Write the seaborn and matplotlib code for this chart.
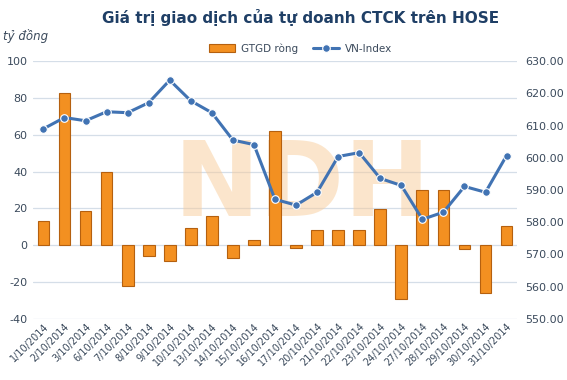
import numpy as np
import pandas as pd
import matplotlib
matplotlib.use("Agg")
import matplotlib.pyplot as plt
import seaborn as sns

# --- data --- #
dates = ["1/10/2014", "2/10/2014", "3/10/2014", "6/10/2014", "7/10/2014", "8/10/2014",
         "9/10/2014", "10/10/2014", "13/10/2014", "14/10/2014", "15/10/2014", "16/10/2014",
         "17/10/2014", "20/10/2014", "21/10/2014", "22/10/2014", "23/10/2014", "24/10/2014",
         "27/10/2014", "28/10/2014", "29/10/2014", "30/10/2014", "31/10/2014"]
gtgd_rong = [13.4, 82.9, 18.8, 39.6, -21.9, -6.1, -8.7, 9.6, 15.7, -7.2, 3.0, 62.3,
             -1.7, 8.5, 8.5, 8.5, 19.5, -29.4, 30.2, 29.8, -2.3, -25.7, 10.3]
vn_index = [609.0, 612.5, 611.5, 614.3, 614.0, 617.1, 624.1, 617.7, 614.0, 605.5, 604.1, 587.1,
            585.3, 589.3, 600.4, 601.6, 593.6, 591.4, 580.9, 583.1, 591.1, 589.3, 600.7]

df = pd.DataFrame({"date": dates, "gtgd": gtgd_rong, "vni": vn_index})
df["pos"] = np.arange(len(df))

# --- style --- #
sns.set_style("white")
plt.rcParams["font.family"] = ["DejaVu Sans"]
plt.rcParams["axes.unicode_minus"] = False
text_col = "#3b4a5c"
grid_col = "#d5dee8"
bar_col = "#f39021"
bar_edge = "#b5600f"
line_col = "#4173b3"

fig = plt.figure(figsize=(5.67, 3.80), dpi=100)
ax = fig.add_axes([0.058, 0.161, 0.854, 0.678])

# watermark (behind everything in the plot area) #
ax.text(0.555, 0.51, "NDH", transform=ax.transAxes, fontsize=74, fontweight="bold",
        color="#f8cc9a", alpha=0.5, ha="center", va="center", zorder=1)

# bars #
sns.barplot(data=df, x="date", y="gtgd", ax=ax, color=bar_col, width=0.56,
            edgecolor=bar_edge, linewidth=0.8, saturation=1, zorder=3)
ax.set_ylim(-40, 100)
ax.set_yticks(np.arange(-40, 101, 20))
ax.set_xlim(-0.5, len(df) - 0.5)
ax.grid(axis="y", color=grid_col, linewidth=0.9, zorder=0)
ax.set_axisbelow(True)
ax.set_xlabel("")
ax.set_ylabel("")
ax.tick_params(axis="y", labelsize=8, colors=text_col, length=0, pad=4)
ax.tick_params(axis="x", labelsize=7, colors=text_col, length=0, pad=2)
for lbl in ax.get_xticklabels():
    lbl.set_rotation(45)
    lbl.set_ha("right")
    lbl.set_rotation_mode("anchor")
for s in ax.spines.values():
    s.set_visible(False)

# line on secondary axis #
ax2 = ax.twinx()
sns.lineplot(data=df, x="pos", y="vni", ax=ax2, color=line_col, linewidth=2.2,
             marker="o", markersize=5.5, markeredgecolor="white", markeredgewidth=0.8,
             legend=False, zorder=4)
ax2.set_ylim(550, 630)
ax2.set_yticks(np.arange(550, 631, 10))
ax2.set_yticklabels([f"{v:.2f}" for v in np.arange(550, 631, 10)])
ax2.set_xlim(-0.5, len(df) - 0.5)
ax2.set_ylabel("")
ax2.set_xlabel("")
ax2.tick_params(axis="y", labelsize=8, colors=text_col, length=0, pad=6)
for s in ax2.spines.values():
    s.set_visible(False)

# legend #
h1 = [ax.patches[0]]
h2 = [ax2.lines[0]]
fig.legend(h1 + h2, ["GTGD ròng", "VN-Index"], loc="center", bbox_to_anchor=(0.53, 0.873),
           ncol=2, frameon=False, fontsize=7.5, labelcolor=text_col, handlelength=2.5,
           columnspacing=1.5, handletextpad=0.5)

# titles #
fig.text(0.53, 0.955, "Giá trị giao dịch của tự doanh CTCK trên HOSE", fontsize=11,
         fontweight="bold", color="#1f3f66", ha="center", va="center")
fig.text(0.005, 0.905, "tỷ đồng", fontsize=8.5, style="italic", color=text_col,
         ha="left", va="center")

fig.savefig("out.png", dpi=100)
